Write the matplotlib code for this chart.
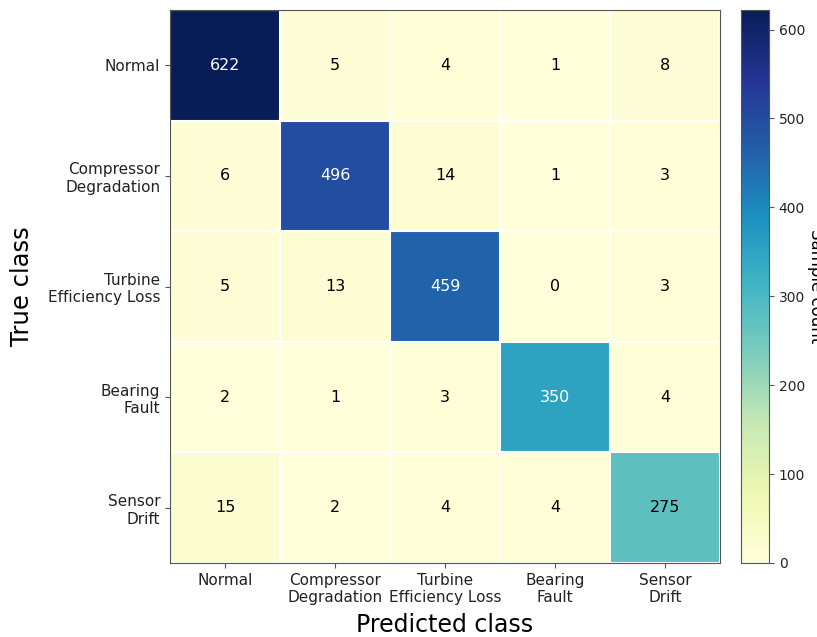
import matplotlib
matplotlib.use("Agg")
import matplotlib.pyplot as plt
import numpy as np

classes = ["Normal", "Compressor\nDegradation", "Turbine\nEfficiency Loss",
           "Bearing\nFault", "Sensor\nDrift"]
row_normal = [622, 5, 4, 1, 8]
row_compressor = [6, 496, 14, 1, 3]
row_turbine = [5, 13, 459, 0, 3]
row_bearing = [2, 1, 3, 350, 4]
row_sensor = [15, 2, 4, 4, 275]

cm = np.array([row_normal, row_compressor, row_turbine, row_bearing, row_sensor])

plt.rcParams["text.color"] = "#222222"
plt.rcParams["xtick.labelcolor"] = "#222222"
plt.rcParams["ytick.labelcolor"] = "#222222"

fig = plt.figure(figsize=(8.17, 6.37), dpi=100)
ax = fig.add_axes([170/817, 1 - 563/637, 550/817, 553/637])
cax = fig.add_axes([741/817, 1 - 563/637, 28/817, 553/637])

im = ax.imshow(cm, cmap="YlGnBu", vmin=0, vmax=cm.max(), aspect="auto")
n = len(classes)
ax.set_xticks(np.arange(n))
ax.set_yticks(np.arange(n))
ax.set_xticklabels(classes, fontsize=11)
ax.set_yticklabels(classes, fontsize=11)
ax.set_xticks(np.arange(-0.5, n, 1), minor=True)
ax.set_yticks(np.arange(-0.5, n, 1), minor=True)
ax.grid(which="minor", color="white", linewidth=1.5)
ax.tick_params(which="minor", length=0)
ax.tick_params(which="major", color="#555555")
for s in ax.spines.values():
    s.set_color("#555555")

thresh = cm.max() / 2
for i in range(n):
    for j in range(n):
        v = cm[i, j]
        ax.text(j, i, str(v), ha="center", va="center", fontsize=11.5,
                color="white" if v > thresh else "black")

ax.set_xlabel("Predicted class", fontsize=17, labelpad=6)
ax.set_ylabel("True class", fontsize=17.5, labelpad=10)

cb = fig.colorbar(im, cax=cax)
cb.outline.set_edgecolor("#555555")
cb.ax.tick_params(labelsize=10, color="#555555")
cb.set_label("Sample count", rotation=270, fontsize=12, labelpad=14)

fig.savefig("out.png", dpi=100)
